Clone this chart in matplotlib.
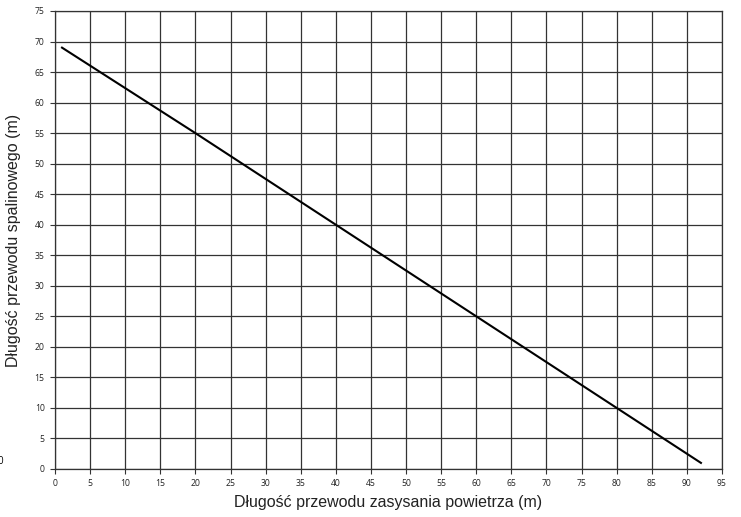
import numpy as np
import matplotlib.pyplot as plt

intake_len = [1, 20, 40, 60, 80, 92]
exhaust_len = [69, 55, 40, 25, 10, 1]
x_ticks = list(range(0, 100, 5))
y_ticks = list(range(0, 80, 5))

fig = plt.figure(figsize=(7.41, 5.17), dpi=100)
ax = fig.add_axes([55 / 741, 48 / 517, 667 / 741, 458 / 517])

ax.plot(intake_len, exhaust_len, color='black', lw=1.5)

ax.set_xlim(0, 95)
ax.set_ylim(0, 75)
ax.set_xticks(x_ticks)
ax.set_yticks(y_ticks)
ax.grid(True, color='#333333', lw=0.9)
ax.set_axisbelow(True)
for s in ax.spines.values():
    s.set_color('#333333')
    s.set_linewidth(0.9)
ax.tick_params(labelsize=6.2, length=3.5, width=0.8, color='#333333', pad=4,
               labelcolor='#222222')
for lab in ax.get_xticklabels() + ax.get_yticklabels():
    lab.set_family(['Open Sans', 'DejaVu Sans'])

ax.set_xlabel('Długość przewodu zasysania powietrza (m)', fontsize=11.5,
              family='Liberation Sans', labelpad=5, color='#222222')
ax.set_ylabel('Długość przewodu spalinowego (m)', fontsize=11.5,
              family='Liberation Sans', labelpad=10, color='#222222')

# ucięty znak przy lewej krawędzi
fig.text(-0.004, 1 - 462 / 517, '0', fontsize=7, family='Open Sans', va='center')

fig.savefig('out.png', dpi=100)
